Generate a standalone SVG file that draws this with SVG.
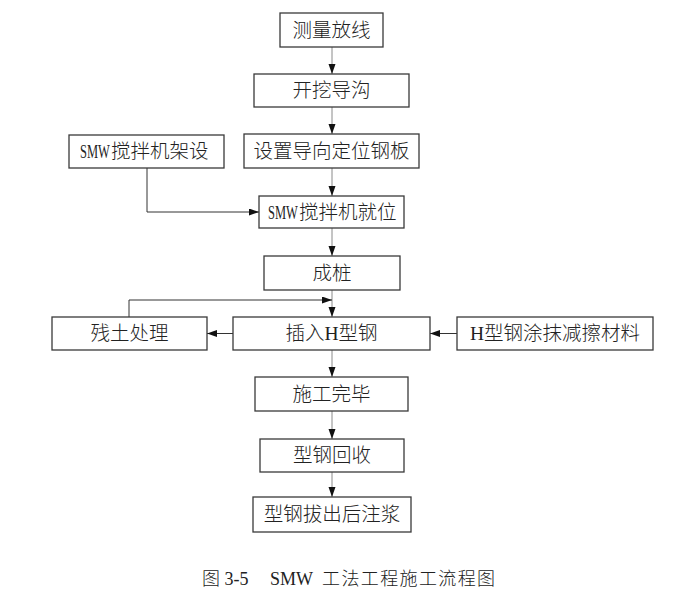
<svg xmlns="http://www.w3.org/2000/svg" width="684" height="602" viewBox="0 0 684 602">
<style>
.box{fill:#fff;stroke:#3a3a3a;stroke-width:1.3}
.t{font-family:"Liberation Serif","Noto Sans CJK SC",serif;font-size:19.5px;font-weight:300;fill:#222;text-anchor:middle;dominant-baseline:central}
.ts{font-family:"Liberation Serif","Noto Sans CJK SC",serif;font-size:19.5px;font-weight:300;fill:#222;dominant-baseline:central}
.v{fill:none;stroke:#8a8a8a;stroke-width:1}
.h{fill:none;stroke:#333;stroke-width:1}
.cap{font-family:"Liberation Serif","Noto Sans CJK SC",serif;font-size:18px;font-weight:300;fill:#222}
</style>
<defs>
<marker id="ah" markerUnits="userSpaceOnUse" markerWidth="10" markerHeight="8" refX="10" refY="3.5" orient="auto">
<path d="M0,0 L10,3.5 L0,7 z" fill="#111"/>
</marker>
</defs>
<rect width="684" height="602" fill="#fff"/>
<g id="connectors">
<line class="v" x1="332" y1="47" x2="332" y2="74" marker-end="url(#ah)"/>
<line class="v" x1="332" y1="107" x2="332" y2="134" marker-end="url(#ah)"/>
<line class="v" x1="332" y1="168" x2="332" y2="196" marker-end="url(#ah)"/>
<polyline class="h" points="147,168 147,212 259,212" marker-end="url(#ah)"/>
<line class="v" x1="332" y1="228" x2="332" y2="256" marker-end="url(#ah)"/>
<line class="v" x1="332" y1="290" x2="332" y2="317" marker-end="url(#ah)"/>
<polyline class="h" points="129,317 129,300 332,300" marker-end="url(#ah)"/>
<line class="h" x1="233" y1="333.5" x2="207" y2="333.5" marker-end="url(#ah)"/>
<line class="h" x1="457" y1="333.5" x2="430" y2="333.5" marker-end="url(#ah)"/>
<line class="v" x1="332" y1="350" x2="332" y2="377" marker-end="url(#ah)"/>
<line class="v" x1="332" y1="411" x2="332" y2="439" marker-end="url(#ah)"/>
<line class="v" x1="332" y1="472" x2="332" y2="497" marker-end="url(#ah)"/>
</g>
<g id="n1"><rect class="box" x="280" y="13" width="103" height="34"/><text class="t" x="331.5" y="30">测量放线</text></g>
<g id="n2"><rect class="box" x="254" y="74" width="155" height="33"/><text class="t" x="331.5" y="90.5">开挖导沟</text></g>
<g id="n3"><rect class="box" x="244" y="134" width="175" height="34"/><text class="t" x="331.5" y="151">设置导向定位钢板</text></g>
<g id="n4"><rect class="box" x="69" y="135" width="155" height="33"/><text class="ts" transform="translate(80,151.5) scale(0.64,1)">SMW</text><text class="ts" x="111" y="151.5">搅拌机架设</text></g>
<g id="n5"><rect class="box" x="259" y="196" width="145" height="32"/><text class="ts" transform="translate(268,212) scale(0.64,1)">SMW</text><text class="ts" x="299" y="212">搅拌机就位</text></g>
<g id="n6"><rect class="box" x="264" y="256" width="136" height="34"/><text class="t" x="332" y="273">成桩</text></g>
<g id="n7"><rect class="box" x="233" y="317" width="197" height="33"/><text class="t" x="331.5" y="333.5">插入H型钢</text></g>
<g id="n8"><rect class="box" x="52" y="317" width="155" height="33"/><text class="t" x="129.5" y="333.5">残土处理</text></g>
<g id="n9"><rect class="box" x="457" y="317" width="196" height="33"/><text class="t" x="555" y="333.5">H型钢涂抹减擦材料</text></g>
<g id="n10"><rect class="box" x="255" y="377" width="153" height="34"/><text class="t" x="331.5" y="394">施工完毕</text></g>
<g id="n11"><rect class="box" x="260" y="439" width="144" height="33"/><text class="t" x="332" y="455.5">型钢回收</text></g>
<g id="n12"><rect class="box" x="253" y="497" width="158" height="35"/><text class="t" x="332" y="514.5">型钢拔出后注浆</text></g>
<text class="cap" y="585"><tspan x="202">图 3-5</tspan><tspan x="270">SMW</tspan><tspan x="322" textLength="173" lengthAdjust="spacing">工法工程施工流程图</tspan></text>
</svg>
